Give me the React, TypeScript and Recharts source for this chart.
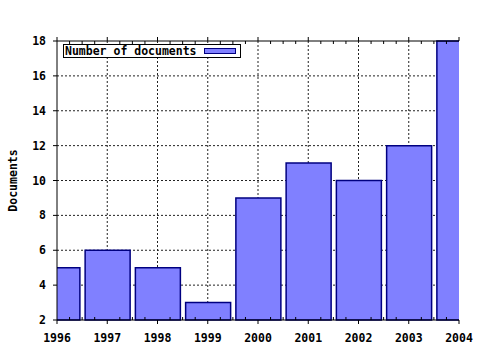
import { BarChart, Bar, XAxis, YAxis, CartesianGrid, Legend } from "recharts";

const years = [1996, 1997, 1998, 1999, 2000, 2001, 2002, 2003, 2004];
const documents = [5, 6, 5, 3, 9, 11, 10, 12, 18];
const yTicks = [2, 4, 6, 8, 10, 12, 14, 16, 18];
const innerYears = [1997, 1998, 1999, 2000, 2001, 2002, 2003];
const innerYTicks = [4, 6, 8, 10, 12, 14, 16];

const FONT = "'DejaVu Sans Mono', 'Liberation Mono', monospace";
const FILL = "#8080ff";
const EDGE = "#000080";

// quarter-year ticks for the minor marks
const quarterTicks: number[] = [];
for (let y = years[0]; y <= years[years.length - 1]; y += 0.25) quarterTicks.push(y);

const data = years.map((year, i) => ({ year, docs: documents[i] }));

function BottomTick(props: any) {
  const { x, y, payload } = props;
  const major = Number.isInteger(payload.value);
  if (!major) return <line x1={x} y1={y} x2={x} y2={y - 3} stroke="#000" />;
  return (
    <g>
      <line x1={x} y1={y} x2={x} y2={y + 4} stroke="#000" />
      <text x={x} y={y + 22} textAnchor="middle" fontFamily={FONT} fontWeight="bold" fontSize={11.5} fill="#000">
        {payload.value}
      </text>
    </g>
  );
}

function TopTick(props: any) {
  const { x, y, payload } = props;
  const major = Number.isInteger(payload.value);
  return major
    ? <line x1={x} y1={y} x2={x} y2={y - 4} stroke="#000" />
    : <line x1={x} y1={y} x2={x} y2={y + 3} stroke="#000" />;
}

function LegendBox() {
  return (
    <div
      style={{
        display: "flex",
        alignItems: "center",
        border: "1px solid #000",
        background: "#fff",
        height: 12,
        padding: "0 4px 0 1px",
        fontFamily: FONT,
        fontWeight: "bold",
        fontSize: 11.5,
        color: "#000",
        lineHeight: "12px",
        whiteSpace: "nowrap",
      }}
    >
      <span>Number of documents</span>
      <span style={{ display: "inline-block", width: 30, height: 4, marginLeft: 7, background: FILL, border: `1px solid ${EDGE}` }} />
    </div>
  );
}

export default function App() {
  return (
    <div style={{ position: "absolute", left: 0, top: 0, width: 480, height: 350, background: "#fff" }}>
      <BarChart width={480} height={350} data={data} margin={{ top: 40, right: 21, bottom: 0, left: 0 }}>
        <CartesianGrid
          stroke="#222"
          strokeDasharray="2 2"
          verticalValues={innerYears}
          horizontalValues={innerYTicks}
        />
        <XAxis
          dataKey="year"
          type="number"
          domain={[years[0], years[years.length - 1]]}
          allowDataOverflow
          ticks={quarterTicks}
          interval={0}
          height={30}
          tickSize={0}
          tickMargin={0}
          tickLine={false}
          tick={<BottomTick />}
          axisLine={{ stroke: "#000" }}
        />
        <XAxis
          xAxisId="top"
          orientation="top"
          dataKey="year"
          type="number"
          domain={[years[0], years[years.length - 1]]}
          allowDataOverflow
          ticks={quarterTicks}
          interval={0}
          height={1}
          tickSize={0}
          tickMargin={0}
          tickLine={false}
          tick={<TopTick />}
          axisLine={{ stroke: "#000" }}
        />
        <YAxis
          domain={[yTicks[0], yTicks[yTicks.length - 1]]}
          ticks={yTicks}
          interval={0}
          width={57}
          tickSize={4}
          tickMargin={7}
          tickLine={{ stroke: "#000" }}
          axisLine={{ stroke: "#000" }}
          tick={{ fontFamily: FONT, fontWeight: "bold", fontSize: 11.5, fill: "#000" }}
          label={{
            value: "Documents",
            angle: -90,
            position: "insideLeft",
            offset: 13,
            style: { fontFamily: FONT, fontWeight: "bold", fontSize: 11.5, fill: "#000", textAnchor: "middle" },
          }}
        />
        <YAxis
          yAxisId="right"
          orientation="right"
          domain={[yTicks[0], yTicks[yTicks.length - 1]]}
          width={0}
          tick={false}
          tickLine={false}
          axisLine={{ stroke: EDGE }}
        />
        <Legend
          layout="horizontal"
          verticalAlign="middle"
          align="center"
          wrapperStyle={{ left: 63, top: 44, width: "auto" }}
          content={() => <LegendBox />}
        />
        <Bar dataKey="docs" name="Number of documents" fill={FILL} stroke={EDGE} strokeWidth={1.5} barSize={45} isAnimationActive={false} />
      </BarChart>
    </div>
  );
}
